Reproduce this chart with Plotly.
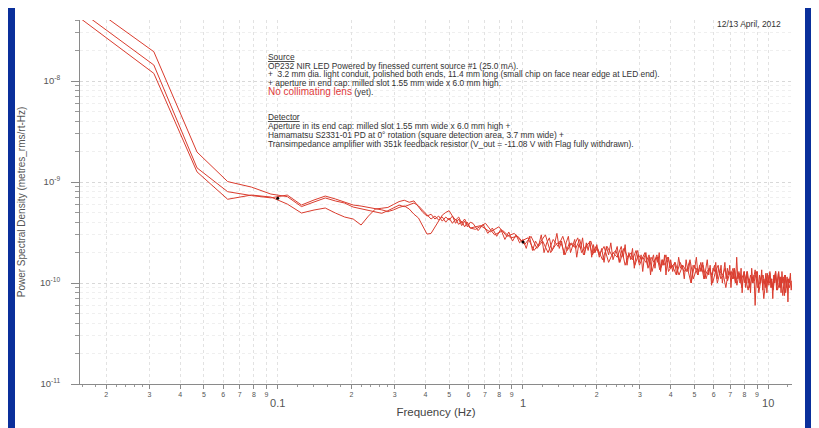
import math
import plotly.graph_objects as go

# ---------------- data ----------------
DF = 0.015625          # Hz per FFT bin
UNIT = 1e-10           # PSD values below are in units of 1e-10 m_rms/rt-Hz

bins_low = list(range(1, 40))
psd_a_low = [420, 119, 12.6, 6.75, 7.43, 7.10, 6.05, 4.93, 5.28, 5.53, 4.93, 4.50, 4.30,
             3.75, 4.6, 5.4, 5.5, 5.6, 6.0, 6.4, 6.6, 6.3, 6.5, 5.6, 5.0, 4.6, 4.8,
             4.3, 4.6, 4.1, 4.5, 4.2, 4.6, 3.9, 4.3, 3.7, 4.1, 3.6, 4.0]
psd_b_low = [497, 144, 13.8, 8.02, 7.34, 6.97, 7.43, 5.92, 6.64, 7.26, 6.79, 6.34, 5.92,
             5.78, 5.6, 5.5, 5.3, 5.1, 5.3, 5.6, 5.8, 5.4, 4.8, 4.4, 3.6, 3.05, 3.1,
             3.6, 4.2, 4.7, 5.0, 5.2, 4.6, 4.2, 4.5, 3.9, 4.3, 3.8, 3.5]
psd_c_low = [655, 195, 19.8, 10.1, 8.91, 7.60, 7.17, 5.71, 6.34, 6.95, 6.49, 6.19, 5.65,
             5.41, 5.2, 5.05, 4.9, 5.2, 5.6, 5.9, 5.7, 5.9, 6.2, 5.8, 5.2, 4.7, 4.3,
             4.6, 4.2, 4.5, 4.0, 4.4, 3.9, 4.3, 3.8, 4.1, 3.6, 4.0, 3.5]

bins_a_hi = (list(range(40, 64, 2)) + list(range(64, 128, 2)) + list(range(128, 256, 3))
             + list(range(256, 512, 5)) + list(range(512, 801, 6)))
psd_a_hi = [3.9, 3.3, 3.8, 3.1, 3.5, 2.9, 3.4, 2.7, 3.2, 2.6, 3.0, 2.5,
            2.7, 2.2, 2.9, 2.1, 2.6, 2.3, 3.0, 2.0, 2.5, 2.8, 2.1, 2.4, 3.1, 2.2, 2.6, 1.9,
            2.5, 2.9, 2.0, 2.3, 2.7, 1.8, 2.4, 2.2, 2.8, 1.9, 2.5, 2.1, 2.6, 1.8, 2.4, 2.0,
            2.4, 1.8, 2.2, 1.6, 2.3, 1.9, 2.5, 1.7, 2.0, 2.3, 1.6, 2.1, 1.8, 2.4, 1.5, 2.0,
            1.7, 2.2, 1.4, 1.9, 2.1, 1.6, 1.9, 1.3, 1.8, 2.0, 1.5, 1.8, 1.2, 1.7, 1.9, 1.4,
            1.8, 1.6, 2.0, 1.3, 1.7, 1.5, 1.9, 1.2, 1.6, 1.8, 1.4,
            1.7, 1.3, 1.6, 1.2, 1.8, 1.4, 1.5, 1.1, 1.7, 1.3, 1.6, 1.0, 1.5, 1.4, 1.8, 1.2,
            1.5, 1.3, 1.6, 1.1, 1.4, 1.7, 1.2, 1.5, 0.95, 1.4, 1.3, 1.6, 1.1, 1.4, 1.2, 1.5,
            1.0, 1.3, 1.6, 1.1, 1.4, 1.2, 1.5, 0.9, 1.3, 1.1, 1.4, 1.0, 1.8, 1.1, 1.3, 1.0,
            1.4, 0.8, 1.2, 1.3,
            1.2, 0.9, 1.3, 1.0, 1.1, 0.8, 1.4, 1.0, 1.2, 0.6, 1.1, 1.3, 0.9, 1.2, 1.0, 1.35,
            0.85, 1.1, 1.0, 1.25, 0.8, 1.2, 0.95, 1.3, 0.9, 1.1, 0.7, 1.2, 1.0, 1.3, 0.85,
            1.1, 1.25, 0.9, 1.15, 0.8, 1.3, 1.0, 1.1, 0.75, 1.2, 0.9, 1.15, 0.65, 1.1, 1.0,
            1.25, 0.85, 1.05]

bins_b_hi = (list(range(41, 64, 4)) + list(range(65, 128, 4)) + list(range(129, 254, 6))
             + list(range(257, 512, 10)) + list(range(514, 801, 12)))
psd_b_hi = [3.4, 3.9, 3.0, 3.3, 2.8, 2.9,
            2.4, 2.9, 2.2, 2.6, 2.0, 2.7, 2.3, 2.9, 2.1, 2.5, 2.2, 2.7, 1.9, 2.4, 2.6, 2.0,
            2.2, 1.7, 2.3, 1.9, 2.1, 1.6, 2.2, 1.8, 2.0, 1.5, 1.9, 1.7, 2.0, 1.4, 1.8, 1.6,
            1.9, 1.35, 1.7, 1.5, 1.8,
            1.4, 1.6, 1.2, 1.5, 1.3, 1.7, 1.1, 1.4, 1.3, 1.5, 1.1, 1.4, 1.2, 1.5, 1.0, 1.3,
            1.2, 1.4, 1.05, 1.3, 1.1, 1.35, 0.95, 1.25, 1.1, 1.2,
            1.0, 1.3, 0.9, 1.15, 1.05, 1.3, 0.8, 1.1, 1.2, 0.9, 1.25, 1.0, 1.1, 0.85, 1.2,
            0.95, 1.3, 0.9, 1.05, 1.15, 0.8, 1.1, 1.0, 1.2]

bins_c_hi = (list(range(43, 64, 4)) + list(range(67, 128, 4)) + list(range(131, 256, 6))
             + list(range(260, 512, 10)) + list(range(518, 801, 12)))
psd_c_hi = [3.7, 3.2, 3.6, 2.9, 3.1, 2.6,
            2.8, 2.1, 2.5, 3.0, 2.0, 2.4, 2.6, 1.9, 2.5, 2.3, 2.8, 2.0, 2.3, 2.5, 1.9, 2.3,
            1.9, 2.3, 1.6, 2.0, 1.8, 2.3, 1.5, 1.9, 1.7, 2.1, 1.5, 1.8, 1.6, 1.9, 1.3, 1.7,
            1.8, 1.4, 1.6, 1.9, 1.3,
            1.5, 1.2, 1.6, 1.3, 1.4, 1.0, 1.5, 1.2, 1.6, 1.1, 1.3, 1.4, 1.0, 1.3, 1.5, 1.1,
            1.2, 0.9, 1.3, 1.2, 1.4, 1.0, 1.2, 1.15, 0.9, 1.3,
            1.1, 0.85, 1.2, 1.0, 1.35, 0.9, 1.0, 1.2, 0.7, 1.1, 1.0, 1.25, 0.9, 1.1, 1.3,
            0.85, 1.0, 1.15, 0.75, 1.2, 1.0, 1.1, 0.9, 1.05]

cursor_freq = [0.1, 1.0]
cursor_psd = [6.9e-10, 2.55e-10]

x_decades = [0.01, 0.1, 1.0]
x_major = [0.1, 1.0, 10.0]
y_decades = [1e-11, 1e-10, 1e-9, 1e-8]
y_tick_text = ["10<sup>-11</sup>", "10<sup>-10</sup>", "10<sup>-9</sup>", "10<sup>-8</sup>"]

# ---------------- figure ----------------
W, H = 819, 428
OFF = 8                      # page offset of the figure inside the browser window
# target plot area in window pixels: x 80..792, y 20..384
ML = 80 - OFF
MT = 20 - OFF
MR = W - (792 - OFF)
MB = H - (384 - OFF)
PW, PH = W - ML - MR, H - MT - MB

LINE = "rgb(218,60,46)"
fig = go.Figure()
for bl, pl, bh, ph in [(bins_low, psd_a_low, bins_a_hi, psd_a_hi),
                       (bins_low, psd_b_low, bins_b_hi, psd_b_hi),
                       (bins_low, psd_c_low, bins_c_hi, psd_c_hi)]:
    assert len(bh) == len(ph), (len(bh), len(ph))
    f = [k * DF for k in bl + bh]
    v = [p * UNIT for p in pl + ph]
    fig.add_trace(go.Scatter(x=f, y=v, mode="lines",
                             line=dict(color=LINE, width=1), hoverinfo="skip"))
fig.add_trace(go.Scatter(x=cursor_freq, y=cursor_psd, mode="markers",
                         marker=dict(color="black", size=3), hoverinfo="skip"))

# x ticks
xt_vals, xt_text = [], []
for d in x_decades:
    for m in range(2, 10):
        xt_vals.append(m * d)
        xt_text.append(str(m))
for mj in x_major:
    xt_vals.append(mj)
    xt_text.append("<br><span style='font-size:11px'>%g</span>" % mj)
x_minor = [m * d for d in x_decades + [10.0] for m in (1.2, 1.4, 1.6, 1.8, 2.2, 2.4, 2.6, 2.8)]
y_minor = [m * d for d in [1e-11, 1e-10, 1e-9, 1e-8] for m in range(2, 10)]

FONT = "Arial, Liberation Sans, sans-serif"
fig.update_layout(
    width=W, height=H,
    margin=dict(l=ML, r=MR, t=MT, b=MB, autoexpand=False),
    paper_bgcolor="#0a2f9b",
    plot_bgcolor="white",
    showlegend=False,
    font=dict(family=FONT, color="#444"),
    xaxis=dict(
        type="log", range=[math.log10(0.015625), math.log10(12.5)],
        automargin=False,
        showline=True, linecolor="#8a8a8a", linewidth=1, mirror=False,
        ticks="outside", ticklen=4, tickcolor="#8a8a8a", tickwidth=1,
        tickmode="array", tickvals=xt_vals, ticktext=xt_text,
        tickfont=dict(size=7, color="#555"),
        showgrid=True, gridcolor="#e2e2e2", griddash="dot", gridwidth=1,
        zeroline=False,
        minor=dict(tickvals=x_minor, ticks="outside", ticklen=2, tickcolor="#999",
                   showgrid=False),
        title=dict(text="Frequency (Hz)", font=dict(size=11.5, color="#444"), standoff=0),
    ),
    yaxis=dict(
        type="log", range=[-11, math.log10(4.02e-8)],
        automargin=False,
        showline=True, linecolor="#8a8a8a", linewidth=1,
        ticks="outside", ticklen=8, tickcolor="#8a8a8a",
        tickmode="array", tickvals=y_decades, ticktext=y_tick_text,
        tickfont=dict(size=9.5, color="#555"), ticklabelstandoff=9,
        showgrid=True, gridcolor="#d8d8d8", griddash="dot", gridwidth=1,
        zeroline=False,
        minor=dict(tickvals=y_minor, ticks="outside", ticklen=4, tickcolor="#999",
                   showgrid=True, gridcolor="#efefef", griddash="dot"),
        title=dict(text="Power Spectral Density (metres_rms/rt-Hz)",
                   font=dict(size=10, color="#555"), standoff=12),
    ),
)


def px(xp):
    """window pixel x -> paper coordinate"""
    return (xp - OFF - ML) / PW


def py(yp):
    """window pixel y -> paper coordinate"""
    return (MT + PH - (yp - OFF)) / PH


# white panel behind the plot
fig.add_shape(type="rect", xref="paper", yref="paper",
              x0=px(15), x1=px(805), y0=py(450), y1=py(5),
              fillcolor="white", line=dict(width=0), layer="below")

note_lines = [
    (57, "<u>Source</u>"),
    (66, "OP232 NIR LED Powered by finessed current source #1 (25.0 mA)."),
    (74, "+  3.2 mm dia. light conduit, polished both ends, 11.4 mm long (small chip on face near edge at LED end)."),
    (83, "+ aperture in end cap: milled slot 1.55 mm wide x 6.0 mm high."),
    (92, "<span style='color:#e0393a;font-size:10px'>No collimating lens</span> (yet)."),
    (117, "<u>Detector</u>"),
    (126, "Aperture in its end cap: milled slot 1.55 mm wide x 6.0 mm high +"),
    (135, "Hamamatsu S2331-01 PD at 0° rotation (square detection area, 3.7 mm wide) +"),
    (144, "Transimpedance amplifier with 351k feedback resistor (V_out = -11.08 V with Flag fully withdrawn)."),
]
for yp, t in note_lines:
    fig.add_annotation(text=t, xref="paper", yref="paper", x=px(266), y=py(yp),
                       xanchor="left", yanchor="middle", showarrow=False,
                       font=dict(size=8.4, color="#333", family=FONT))
fig.add_annotation(text="12/13 April, 2012", xref="paper", yref="paper",
                   x=px(783), y=py(24), xanchor="right", yanchor="middle",
                   showarrow=False, font=dict(size=8.5, color="#333", family=FONT))

fig.write_html("out.html")
